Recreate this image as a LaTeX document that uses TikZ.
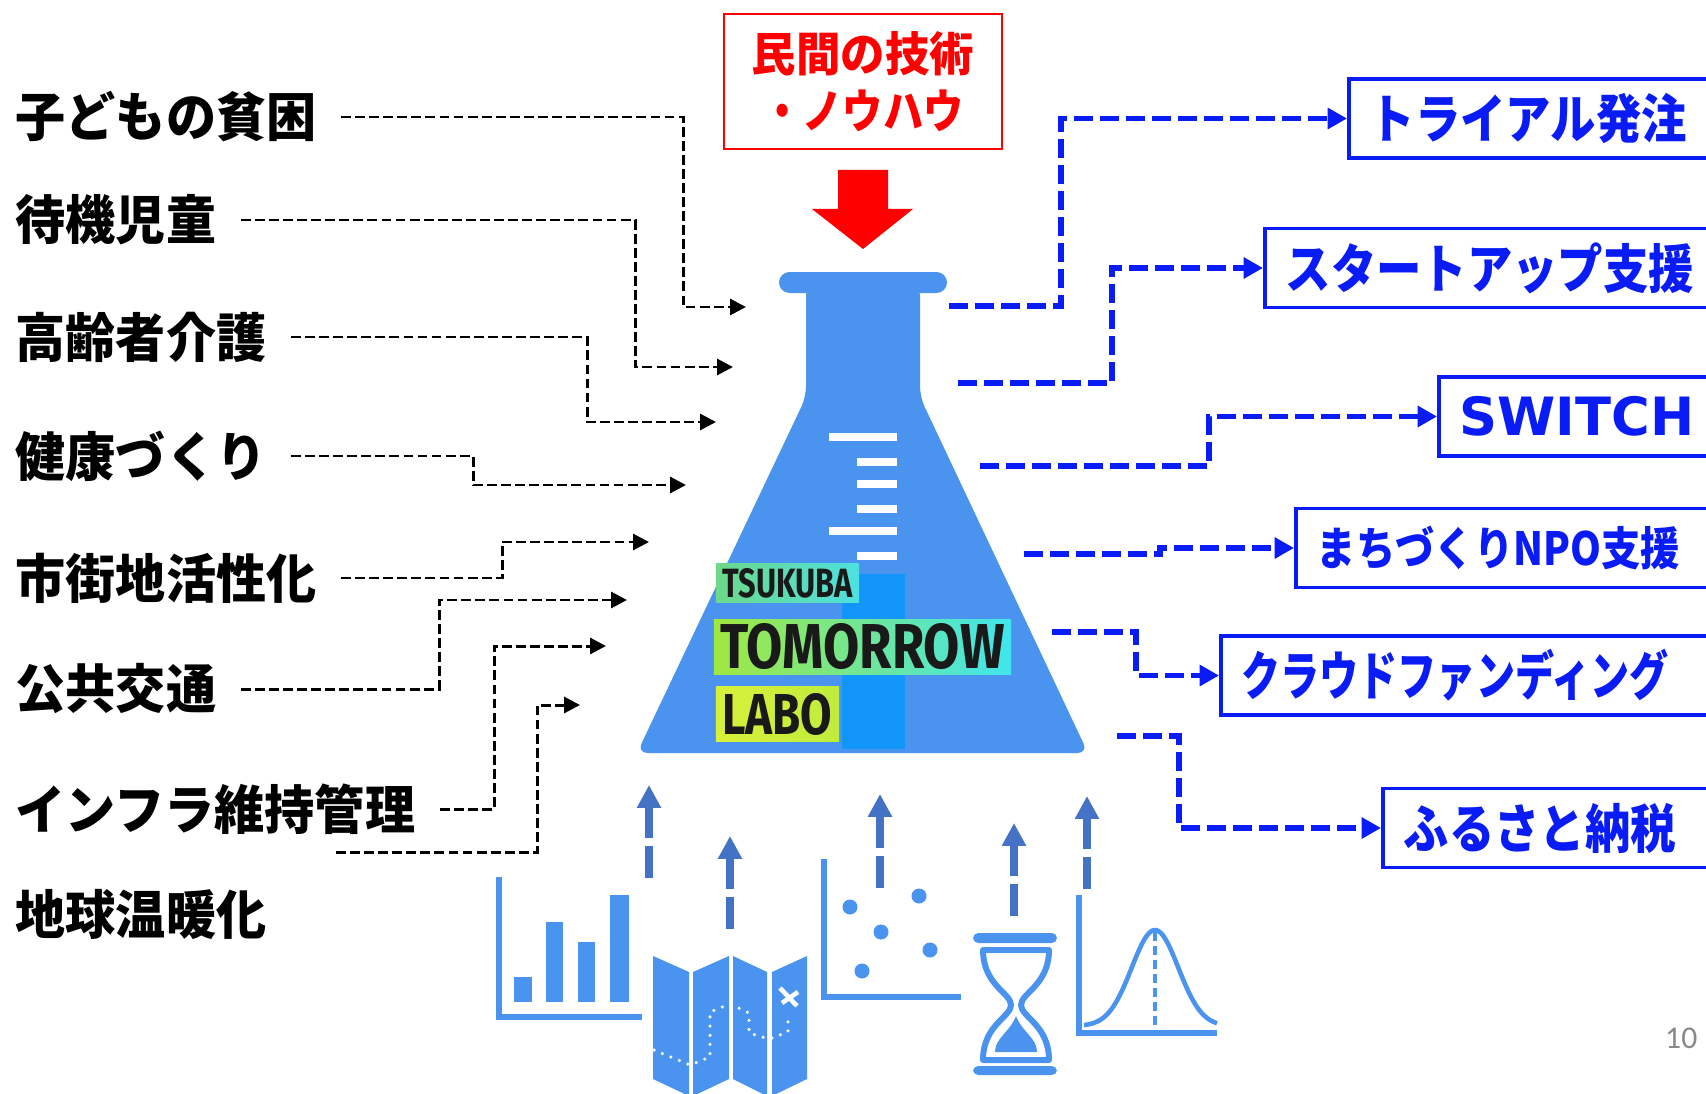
\documentclass[tikz,border=0pt]{standalone}
\usepackage{fontspec}
\usepackage{graphicx}
\usetikzlibrary{arrows.meta}
\setsansfont{DejaVu Sans}
\newfontfamily\jp{Noto Sans CJK JP}[FakeStretch=0.95]
\newfontfamily\jpn{Noto Sans CJK JP}[FakeStretch=0.86]
\newfontfamily\jpc{Noto Sans CJK JP}[FakeStretch=0.74]
\newfontfamily\logofont{Fira Sans}
\newfontfamily\numfont{Carlito}
\definecolor{flaskblue}{RGB}{74,148,240}
\definecolor{logoblue}{RGB}{18,150,250}
\definecolor{conblue}{RGB}{10,28,245}
\definecolor{upblue}{RGB}{68,114,196}
\definecolor{pagegray}{RGB}{137,137,137}
\definecolor{tsukubaL}{RGB}{108,217,138}
\definecolor{tsukubaR}{RGB}{77,224,224}
\definecolor{tomorrowL}{RGB}{160,232,64}
\definecolor{tomorrowR}{RGB}{64,229,238}
\definecolor{laboL}{RGB}{216,240,58}
\definecolor{laboR}{RGB}{192,236,60}

\begin{document}
\begin{tikzpicture}[x=0.01cm,y=-0.01cm,
  lbl/.style={anchor=west,inner sep=0pt,font=\jp\bfseries\fontsize{15}{18}\selectfont},
  rbox/.style={draw=conblue,line width=1pt,anchor=west,minimum height=0.79cm,inner xsep=0.21cm,
    text width=5cm,align=left,text=conblue,font=\jpn\bfseries\fontsize{15}{18}\selectfont},
  blkcon/.style={black,line width=0.85pt,dash pattern=on 2.8pt off 1.2pt,-{Triangle[length=4.5pt,width=4.5pt]}},
  bluecon/.style={conblue,line width=1.7pt,dash pattern=on 5.4pt off 2pt,-{Triangle[length=5.5pt,width=5.8pt]}},
  uparr/.style={upblue,line width=2.3pt,dash pattern=on 9pt off 2.3pt,-{Triangle[length=6.5pt,width=6.5pt]}},
  iconaxis/.style={flaskblue,line width=1.5pt},
  gradmark/.style={white,line width=2.3pt},
  logobox/.style={inner sep=0pt,text=black!90}
]
\useasboundingbox (0,0) rectangle (1706,1094);
\fill[white] (0,0) rectangle (1706,1094);
\clip (0,0) rectangle (1706,1094);

\node[lbl] (kodomo) at (15,117) {子どもの貧困};
\node[lbl] (taiki) at (15,220) {待機児童};
\node[lbl] (koreisha) at (15,337) {高齢者介護};
\node[lbl] (kenko) at (15,456) {健康づくり};
\node[lbl] (shigaichi) at (15,578) {市街地活性化};
\node[lbl] (kokyo) at (15,689) {公共交通};
\node[lbl] (infra) at (15,809) {インフラ維持管理};
\node[lbl] (ondanka) at (15,914) {地球温暖化};

\coordinate (in1) at (746,307);
\coordinate (in2) at (733,367);
\coordinate (in3) at (716,422);
\coordinate (in4) at (686,485);
\coordinate (in5) at (649,542);
\coordinate (in6) at (627,600);
\coordinate (in7) at (606,646);
\coordinate (in8) at (580,705);
\coordinate (w0) at (336,852);
\draw[blkcon] ([xshift=0.24cm]kodomo.east) -| (683,200) |- (in1);
\draw[blkcon] ([xshift=0.24cm]taiki.east) -| (635,300) |- (in2);
\draw[blkcon] ([xshift=0.24cm]koreisha.east) -| (587,380) |- (in3);
\draw[blkcon] ([xshift=0.24cm]kenko.east) -| (473,470) |- (in4);
\draw[blkcon] ([xshift=0.24cm]shigaichi.east) -| (502,560) |- (in5);
\draw[blkcon] ([xshift=0.24cm]kokyo.east) -| (439,640) |- (in6);
\draw[blkcon] ([xshift=0.24cm]infra.east) -| (494,720) |- (in7);
\draw[blkcon] (w0) -| (537,780) |- (in8);

\node[draw=red,line width=0.6pt,minimum width=2.78cm,minimum height=1.35cm,align=center,text=red,
  font=\jp\bfseries\fontsize{13.3}{16.2}\selectfont] (minkan) at (863,81.5) {民間の技術\\{\jpn ・ノウハウ}};
\fill[red] (838,170) -- (888,170) -- (888,209) -- (913,209) -- (863,249) -- (812,209) -- (838,209) -- cycle;

\fill[flaskblue,rounded corners=3pt] (779,272) rectangle (947,293);
\fill[flaskblue,rounded corners=3pt] (806,285) -- (920,285) -- (920,397) -- (1088,753) -- (637,753) -- (806,397) -- cycle;
\foreach \y in {437,531} \draw[gradmark] (829,\y) -- (897,\y);
\foreach \y in {462,484,509,556} \draw[gradmark] (857,\y) -- (897,\y);
\fill[logoblue] (842,574) rectangle (905,749);
\node[logobox,left color=tsukubaL,right color=tsukubaR,minimum width=1.43cm,minimum height=0.38cm] (tsukuba) at (787.5,583)
  {\resizebox{1.3cm}{0.29cm}{\logofont\bfseries TSUKUBA}};
\node[logobox,left color=tomorrowL,right color=tomorrowR,minimum width=2.97cm,minimum height=0.54cm] (tomorrow) at (862.5,647)
  {\resizebox{2.84cm}{0.45cm}{\logofont\bfseries TOMORROW}};
\node[logobox,left color=laboL,right color=laboR,minimum width=1.23cm,minimum height=0.54cm] (labo) at (777.5,714)
  {\resizebox{1.1cm}{0.41cm}{\logofont\bfseries LABO}};

\node[rbox] (trial) at (1347,118.5) {トライアル発注};
\node[rbox] (startup) at (1263,268) {スタートアップ支援};
\node[rbox,font=\sffamily\bfseries\fontsize{15}{18}\selectfont] (switch) at (1437,416.5) {SWITCH};
\node[rbox,font=\jpn\bfseries\fontsize{13}{16}\selectfont] (npo) at (1294,548) {まちづくりNPO支援};
\node[rbox,font=\jpc\bfseries\fontsize{15}{18}\selectfont] (crowd) at (1219,675.5) {クラウドファンディング};
\node[rbox] (furusato) at (1381,828) {ふるさと納税};

\coordinate (o1) at (949,306);
\coordinate (o2) at (958,383);
\coordinate (o3) at (980,466);
\coordinate (o4) at (1024,554);
\coordinate (o5) at (1052,632);
\coordinate (o6) at (1117,736);
\draw[bluecon] (o1) -| (1061,200) |- (trial.west);
\draw[bluecon] (o2) -| (1112,320) |- (startup.west);
\draw[bluecon] (o3) -| (1209,440) |- (switch.west);
\draw[bluecon] (o4) -| (1160,550) |- (npo.west);
\draw[bluecon] (o5) -| (1136,650) |- (crowd.west);
\draw[bluecon] (o6) -| (1179,780) |- (furusato.west);

\draw[iconaxis] (499,877) -- (499,1017) -- (642,1017);
\fill[flaskblue] (514,977) rectangle (532,1002);
\fill[flaskblue] (546,922) rectangle (563,1002);
\fill[flaskblue] (578,942) rectangle (595,1002);
\fill[flaskblue] (610,895) rectangle (629,1002);

\fill[flaskblue] (653,956) -- (689,972) -- (689,1096) -- (653,1079) -- cycle;
\fill[flaskblue] (693,972) -- (729,956) -- (729,1079) -- (693,1096) -- cycle;
\fill[flaskblue] (733,956) -- (767,972) -- (767,1096) -- (733,1079) -- cycle;
\fill[flaskblue] (772,972) -- (807,956) -- (807,1079) -- (772,1096) -- cycle;
\draw[white,line width=1pt,line cap=round,dash pattern=on 0pt off 2.6pt]
  (654,1050) -- (690,1065) -- (710,1057) -- (710,1012) -- (730,1004) -- (749,1013) -- (749,1033) -- (769,1039) -- (788,1032) -- (788,1013);
\draw[white,line width=1.3pt] (780,988) -- (797,1006) (798,992) -- (782,1003);

\draw[iconaxis] (824,859) -- (824,997) -- (961,997);
\foreach \px/\py in {850/907,919/896,881/932,930/950,862/971}
  \fill[flaskblue] (\px,\py) circle[radius=0.075cm];

\fill[flaskblue,rounded corners=1.5pt] (973,933) rectangle (1057,943);
\fill[flaskblue,rounded corners=1.5pt] (973,1066) rectangle (1057,1075);
\draw[flaskblue,line width=1.7pt,line join=round] (983,950) -- (1049,950)
  .. controls (1049,985) and (1021,993) .. (1021,1005)
  .. controls (1021,1017) and (1049,1025) .. (1049,1060) -- (983,1060)
  .. controls (983,1025) and (1011,1017) .. (1011,1005)
  .. controls (1011,993) and (983,985) .. (983,950) -- cycle;
\fill[flaskblue] (1016,1016) .. controls (1010,1032) and (995,1038) .. (995,1052) -- (1037,1052)
  .. controls (1037,1038) and (1022,1032) .. (1016,1016) -- cycle;

\draw[iconaxis] (1079,895) -- (1079,1033) -- (1217,1033);
\draw[flaskblue,line width=1.3pt] plot[domain=-71:62,samples=60,smooth] ({1155+\x},{1026-96*exp(-(\x/33)^2)});
\draw[flaskblue,line width=1.1pt,dash pattern=on 2.5pt off 1.5pt] (1155,932) -- (1155,1033);

\coordinate (ua1) at (649,878); \coordinate (ta1) at (649,785);
\coordinate (ua2) at (730,929); \coordinate (ta2) at (730,836);
\coordinate (ua3) at (880,888); \coordinate (ta3) at (880,794);
\coordinate (ua4) at (1014,916); \coordinate (ta4) at (1014,823);
\coordinate (ua5) at (1087,889); \coordinate (ta5) at (1087,796);
\draw[uparr] (ua1) -- (ta1);
\draw[uparr] (ua2) -- (ta2);
\draw[uparr] (ua3) -- (ta3);
\draw[uparr] (ua4) -- (ta4);
\draw[uparr] (ua5) -- (ta5);

\node[anchor=east,inner sep=0pt,text=pagegray,font=\numfont\fontsize{9}{10}\selectfont] (pagenum) at (1698,1038) {10};
\end{tikzpicture}
\end{document}
